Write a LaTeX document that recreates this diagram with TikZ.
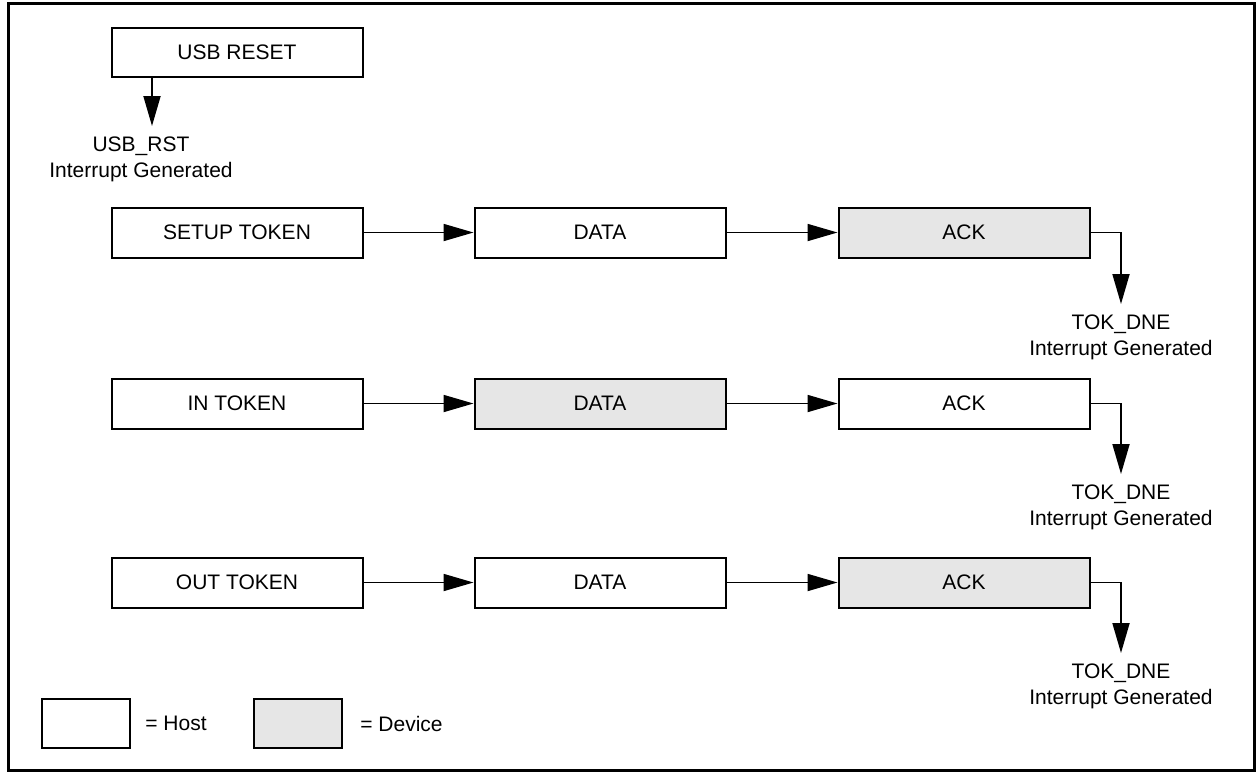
\documentclass[tikz,border=0pt]{standalone}
\usepackage{fontspec}
\setmainfont{Liberation Sans}
\usetikzlibrary{arrows.meta}
\definecolor{devgray}{RGB}{230,230,230}
\tikzset{
  host/.style={draw, line width=1pt, minimum width=125.5pt, minimum height=25pt, fill=white, inner sep=0pt},
  device/.style={host, fill=devgray},
  keybox/.style={host, minimum width=44pt, minimum height=24.5pt},
  flow/.style={line width=0.9pt, -{Triangle[length=15pt,width=8.5pt]}},
  irq/.style={align=center, inner xsep=0pt, inner ysep=5pt, anchor=north}
}
\begin{document}
\begin{tikzpicture}[x=0.5pt,y=-0.5pt,font=\fontsize{10.5}{13}\selectfont]
        \useasboundingbox (0,0) rectangle (1259,773);
        \draw[line width=1.5pt] (8,3) rectangle (1254,770);
        % reset
        \node[host, minimum height=24.5pt] (reset) at (237,52.5) {USB RESET};
        \coordinate (rstTip) at (152,126);
        \node[irq] (rstIrq) at (141,126) {USB\_RST\\Interrupt Generated};
        \draw[flow] (reset.south -| rstTip) -- (rstTip);
        % setup transaction
        \node[host] (setupTok) at (237,232.5) {SETUP TOKEN};
        \node[host] (setupData) at (600,232.5) {DATA};
        \node[device] (setupAck) at (964,232.5) {ACK};
        \node[irq] (setupIrq) at (1121,304) {TOK\_DNE\\Interrupt Generated};
        % in transaction
        \node[host] (inTok) at (237,403.5) {IN TOKEN};
        \node[device] (inData) at (600,403.5) {DATA};
        \node[host] (inAck) at (964,403.5) {ACK};
        \node[irq] (inIrq) at (1121,474) {TOK\_DNE\\Interrupt Generated};
        % out transaction
        \node[host] (outTok) at (237,582.5) {OUT TOKEN};
        \node[host] (outData) at (600,582.5) {DATA};
        \node[device] (outAck) at (964,582.5) {ACK};
        \node[irq] (outIrq) at (1121,653) {TOK\_DNE\\Interrupt Generated};
        \foreach \r in {setup,in,out} {
            \draw[flow] (\r Tok) -- (\r Data);
            \draw[flow] (\r Data) -- (\r Ack);
            \draw[flow] (\r Ack.east) -| (\r Irq.north);
        }
        % legend
        \node[keybox] (hostKey) at (86,723.5) {};
        \node[anchor=west, inner sep=0pt] (hostTxt) at (145,723.5) {= Host};
        \node[keybox, fill=devgray] (devKey) at (297.5,723.5) {};
        \node[anchor=west, inner sep=0pt] (devTxt) at (360,723.5) {= Device};
    \end{tikzpicture}
\end{document}
